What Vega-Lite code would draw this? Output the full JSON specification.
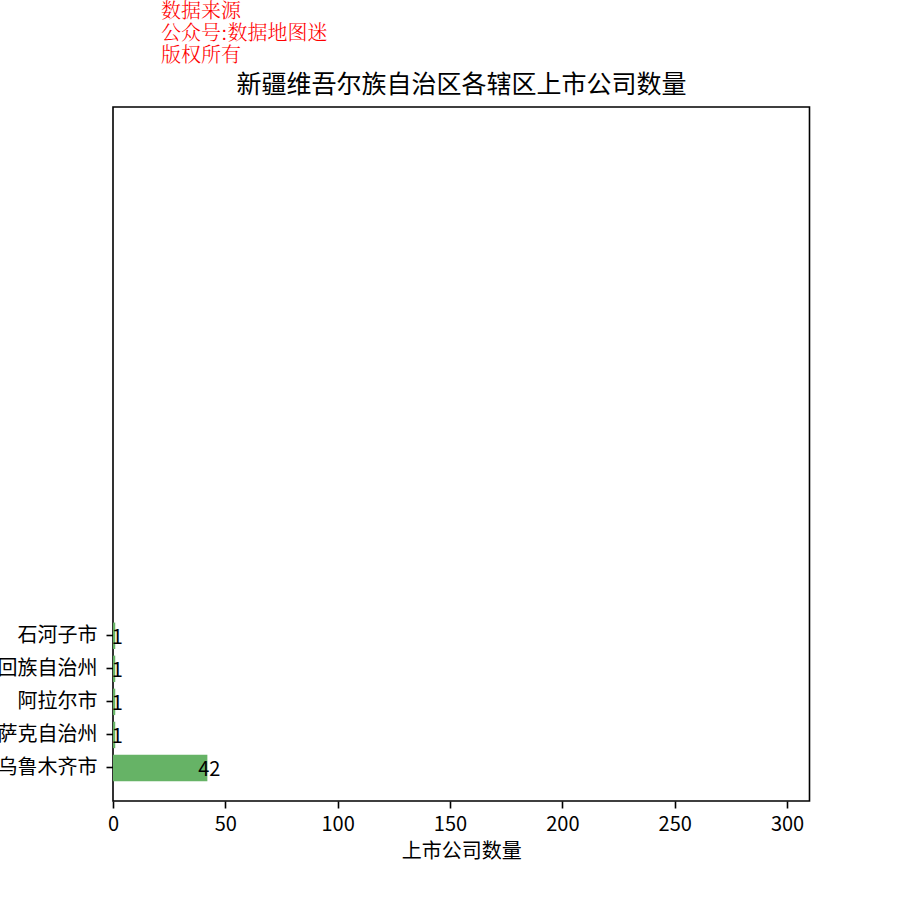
{
  "$schema": "https://vega.github.io/schema/vega-lite/v6.json",
  "autosize": "none",
  "padding": {"left": 113, "top": 107, "right": 90, "bottom": 99},
  "width": 696.5,
  "height": 694,
  "background": "white",
  "title": {
    "text": ["数据来源", "公众号:数据地图迷", "版权所有"],
    "anchor": "start",
    "frame": "group",
    "dx": 48,
    "offset": 6,
    "color": "#ff0000",
    "font": "Noto Serif CJK SC, DejaVu Serif, Noto Sans CJK SC",
    "fontSize": 20,
    "fontWeight": 300,
    "lineHeight": 22
  },
  "data": {
    "values": [
      {"区": "石河子市", "数量": 1},
      {"区": "昌吉回族自治州", "数量": 1},
      {"区": "阿拉尔市", "数量": 1},
      {"区": "伊犁哈萨克自治州", "数量": 1},
      {"区": "乌鲁木齐市", "数量": 42}
    ]
  },
  "encoding": {
    "y": {
      "field": "区",
      "type": "nominal",
      "sort": null,
      "scale": {"range": [515.56, 674.2], "paddingInner": 0.2, "paddingOuter": 0, "round": false},
      "axis": {
        "title": "新疆维吾尔族自治区各辖区上市公司数量",
        "titleAngle": 0,
        "titleX": 348,
        "titleY": -10,
        "titleAlign": "center",
        "titleBaseline": "bottom",
        "titleFontSize": 25,
        "titleFontWeight": "normal",
        "titleColor": "#000000",
        "labelFontSize": 20,
        "labelPadding": 9,
        "labelColor": "#000000"
      }
    },
    "x": {
      "field": "数量",
      "type": "quantitative",
      "scale": {"domain": [0, 310], "nice": false},
      "axis": {
        "values": [0, 50, 100, 150, 200, 250, 300],
        "title": "上市公司数量",
        "titleFontSize": 20,
        "titleFontWeight": "normal",
        "titleColor": "#000000",
        "titlePadding": 7,
        "labelFontSize": 20,
        "labelPadding": 6,
        "labelColor": "#000000",
        "labelFlush": false
      }
    }
  },
  "layer": [
    {"mark": {"type": "bar", "color": "#66b366"}},
    {
      "mark": {"type": "text", "align": "center", "baseline": "middle", "dx": 2, "dy": 2, "fontSize": 20, "color": "#000000"},
      "encoding": {"text": {"field": "数量", "type": "quantitative"}}
    }
  ],
  "config": {
    "font": "Noto Sans CJK SC",
    "view": {"stroke": "#000000", "strokeWidth": 1.6},
    "axis": {
      "grid": false,
      "domain": false,
      "tickColor": "#000000",
      "tickWidth": 1.6,
      "tickSize": 7,
      "labelFont": "Noto Sans CJK SC",
      "titleFont": "Noto Sans CJK SC"
    }
  }
}
